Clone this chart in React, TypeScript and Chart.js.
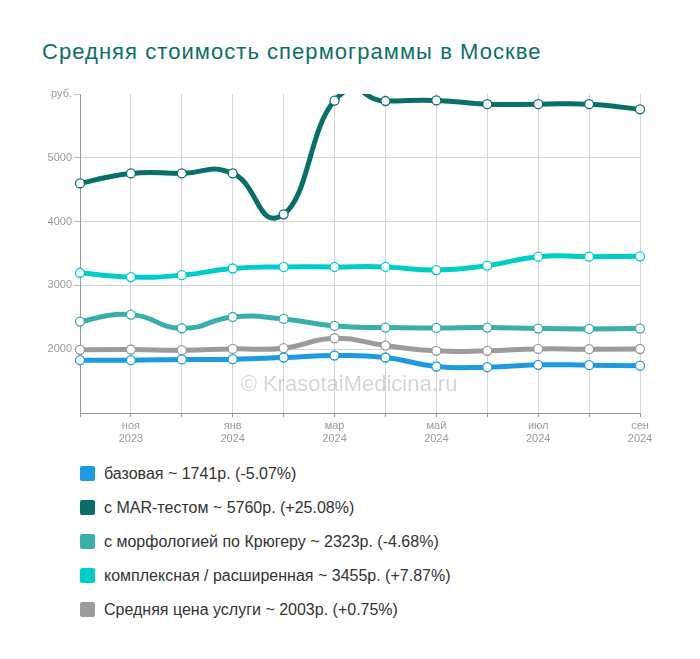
import React, { useEffect, useRef } from "react";
import { Chart, registerables } from "chart.js";

Chart.register(...registerables);

const TITLE = "Средняя стоимость спермограммы в Москве";
const MONTHS = ["окт", "ноя", "дек", "янв", "фев", "мар", "апр", "май", "июн", "июл", "авг", "сен"];
const YEARS = ["2023", "2023", "2023", "2024", "2024", "2024", "2024", "2024", "2024", "2024", "2024", "2024"];

const BASIC = [1828, 1828, 1839, 1844, 1870, 1901, 1870, 1729, 1719, 1755, 1750, 1741];
const MAR = [4599, 4755, 4755, 4755, 4114, 5896, 5890, 5900, 5840, 5840, 5840, 5760];
const KRUGER = [2433, 2542, 2328, 2505, 2474, 2365, 2339, 2333, 2339, 2323, 2318, 2323];
const COMPLEX = [3198, 3130, 3160, 3265, 3290, 3290, 3290, 3240, 3310, 3450, 3450, 3455];
const AVERAGE = [1990, 1995, 1984, 2005, 2016, 2172, 2057, 1974, 1974, 2005, 2000, 2003];

const SERIES_NAMES = [
  "базовая ~ 1741р. (-5.07%)",
  "с MAR-тестом ~ 5760р. (+25.08%)",
  "с морфологией по Крюгеру ~ 2323р. (-4.68%)",
  "комплексная / расширенная ~ 3455р. (+7.87%)",
  "Средняя цена услуги ~ 2003р. (+0.75%)",
];
const SERIES_COLORS = ["#1e9be0", "#0a6e69", "#3aafa8", "#00cdc8", "#9b9b9b"];
const SERIES_DATA = [BASIC, MAR, KRUGER, COMPLEX, AVERAGE];
// draw order: later on top
const DRAW_ORDER = [1, 3, 2, 4, 0];

const Y_MIN = 1000;
const Y_MAX = 6000;
const Y_STEP = 1000;
const Y_TOP_LABEL = "руб.";
const WATERMARK = "© KrasotaiMedicina.ru";

const FONT = "'Liberation Sans', Arial, sans-serif";
const SMOOTH_K = 4;

export default function App() {
  const ref = useRef<HTMLCanvasElement | null>(null);

  useEffect(() => {
    if (!ref.current) return;
    const watermark = {
      id: "watermark",
      beforeDatasetsDraw(chart: any) {
        const { ctx, chartArea } = chart;
        ctx.save();
        ctx.font = `22px ${FONT}`;
        ctx.fillStyle = "rgba(0,0,0,0.17)";
        ctx.textAlign = "center";
        ctx.textBaseline = "middle";
        ctx.fillText(WATERMARK, (chartArea.left + chartArea.right) / 2 - 11, 385);
        ctx.restore();
      },
    };
    // uniform Catmull-Rom style smoothing of the library's own points
    const smoothing = {
      id: "smoothing",
      beforeDatasetDraw(chart: any, args: any) {
        const meta = args.meta;
        const line = meta.dataset;
        if (!line || !meta.iScale) return;
        line.updateControlPoints(chart.chartArea, meta.iScale.axis);
        const pts = meta.data;
        const n = pts.length;
        for (let i = 0; i < n; i++) {
          const p = pts[i];
          const prev = pts[Math.max(0, i - 1)];
          const next = pts[Math.min(n - 1, i + 1)];
          const dx = (next.x - prev.x) / SMOOTH_K;
          const dy = (next.y - prev.y) / SMOOTH_K;
          p.cp1x = p.x - dx;
          p.cp1y = p.y - dy;
          p.cp2x = p.x + dx;
          p.cp2y = p.y + dy;
        }
        line._path = undefined;
      },
    };
    const datasets = DRAW_ORDER.map((i, k) => ({
      label: SERIES_NAMES[i],
      data: SERIES_DATA[i],
      borderColor: SERIES_COLORS[i],
      backgroundColor: "#ffffff",
      pointBackgroundColor: "#ffffff",
      pointBorderColor: SERIES_COLORS[i],
      pointBorderWidth: 1.3,
      pointRadius: 4.5,
      borderWidth: 5,
      tension: 0.4,
      capBezierPoints: false,
      fill: false,
      order: DRAW_ORDER.length - k,
      clip: { left: 10, right: 10, top: 0, bottom: 10 },
    }));
    const chart = new Chart(ref.current, {
      type: "line",
      data: { labels: MONTHS.map((m, i) => [m, YEARS[i]]), datasets },
      plugins: [watermark, smoothing],
      options: {
        animation: false,
        responsive: false,
        maintainAspectRatio: false,
        layout: { padding: { left: 0, right: 60, top: 94, bottom: 0 } },
        plugins: { legend: { display: false }, tooltip: { enabled: false }, title: { display: false } },
        scales: {
          x: {
            offset: false,
            grid: { color: "#d4d4d4", tickColor: "#999", tickLength: 4, drawOnChartArea: true },
            border: { color: "#999", width: 1 },
            ticks: {
              color: "#9a9a9a",
              font: { family: FONT, size: 11 },
              padding: 2,
              autoSkip: false,
              maxRotation: 0,
              callback: (_v: any, i: number) => (i % 2 === 1 ? [MONTHS[i], YEARS[i]] : ""),
            },
            afterFit: (s: any) => {
              s.height = 450 - 413;
            },
          },
          y: {
            min: Y_MIN,
            max: Y_MAX,
            grid: {
              color: (c: any) => (c.tick && (c.tick.value === Y_MAX || c.tick.value === Y_MIN) ? "rgba(0,0,0,0)" : "#d4d4d4"),
              tickColor: (c: any) => (c.tick && c.tick.value === Y_MIN ? "rgba(0,0,0,0)" : "#bbb"),
              tickLength: 6,
            },
            border: { color: "#999", width: 1 },
            ticks: {
              stepSize: Y_STEP,
              color: "#9a9a9a",
              font: { family: FONT, size: 11 },
              padding: 2,
              callback: (v: any) => (v === Y_MAX ? Y_TOP_LABEL : v === Y_MIN ? "" : String(v)),
            },
            afterFit: (s: any) => {
              s.width = 80;
            },
          },
        },
      },
    });
    return () => chart.destroy();
  }, []);

  return (
    <div style={{ position: "absolute", left: 0, top: 0, width: 700, height: 659, background: "#fff", fontFamily: FONT }}>
      <div style={{ position: "absolute", left: 42, top: 38.5, fontSize: 22, letterSpacing: "1.05px", color: "#0b6f69", whiteSpace: "nowrap", lineHeight: "normal" }}>{TITLE}</div>
      <canvas ref={ref} width={700} height={450} style={{ position: "absolute", left: 0, top: 0, width: 700, height: 450 }} />
      {SERIES_NAMES.map((name, i) => (
        <div key={i} style={{ position: "absolute", left: 80, top: 466 + i * 34, height: 15, display: "flex", alignItems: "center" }}>
          <div style={{ width: 15, height: 15, borderRadius: 2, background: SERIES_COLORS[i], marginRight: 9, flex: "none" }} />
          <span style={{ fontSize: 16, color: "#333", whiteSpace: "nowrap", lineHeight: "15px" }}>{name}</span>
        </div>
      ))}
    </div>
  );
}
